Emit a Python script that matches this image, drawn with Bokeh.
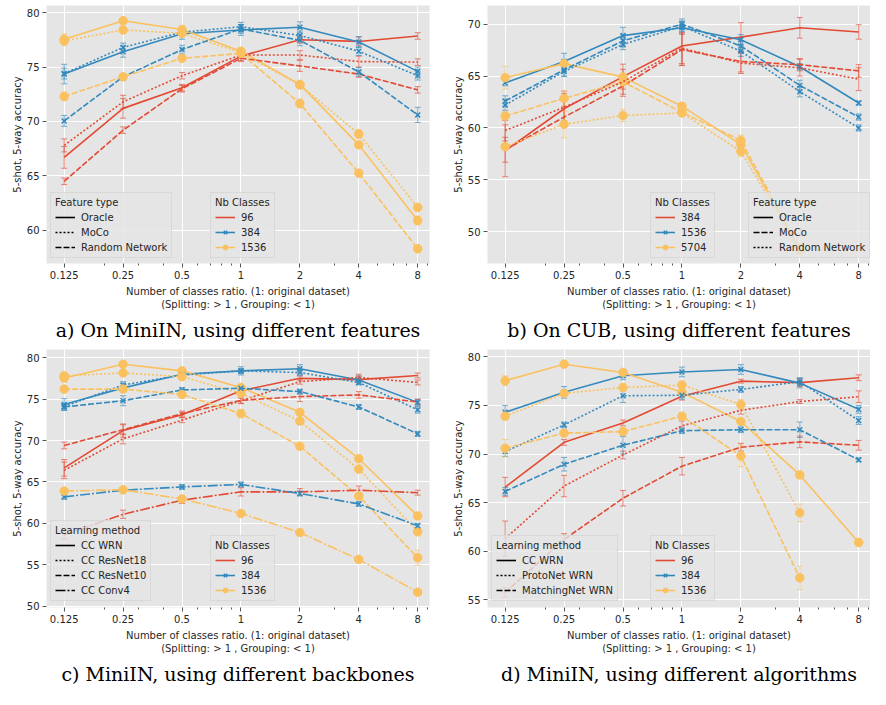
import math
from bokeh.plotting import figure
from bokeh.models import (Range1d, FixedTicker, CustomJSTickFormatter, Legend, LegendItem,
                          Whisker, TeeHead, ColumnDataSource, Title)
from bokeh.layouts import gridplot
from bokeh.embed import file_html
from bokeh.resources import INLINE

NAN = float("nan")

RATIOS = [0.125, 0.25, 0.5, 1, 2, 4, 8]
MINOR_RATIOS = [0.2, 0.3, 0.4, 0.6, 0.7, 0.8, 0.9, 3, 5, 6, 7, 9]

# ---------------- panel a : MiniIN, features ----------------
A_CLASSES = ["96", "384", "1536"]
A_STYLES = ["Oracle", "MoCo", "Random Network"]
A_ORACLE_96 = [66.7, 71.2, 73.1, 76.0, 77.5, 77.35, 77.85]
A_ORACLE_96_ERR = [1.0, 0.9, 0.3, 0.4, 0.3, 0.4, 0.3]
A_ORACLE_384 = [74.35, 76.4, 78.05, 78.4, 78.65, 77.3, 74.6]
A_ORACLE_384_ERR = [0.9, 0.5, 0.5, 0.5, 0.5, 0.5, 0.4]
A_ORACLE_1536 = [77.55, 79.25, 78.45, 76.45, 73.4, 67.85, 60.9]
A_ORACLE_1536_ERR = [0.5, 0.3, 0.3, 0.3, 0.3, 0.3, 0.4]
A_MOCO_96 = [67.8, 71.8, 74.2, 76.1, 76.1, 75.5, 75.45]
A_MOCO_96_ERR = [0.6, 0.6, 0.3, 0.3, 0.4, 0.5, 0.3]
A_MOCO_384 = [74.4, 76.8, 78.2, 78.7, 77.9, 76.45, 74.2]
A_MOCO_384_ERR = [0.5, 0.4, 0.4, 0.4, 0.4, 0.4, 0.4]
A_MOCO_1536 = [77.4, 78.4, 78.1, 76.3, 73.35, 68.85, 62.1]
A_MOCO_1536_ERR = [0.4, 0.3, 0.3, 0.3, 0.3, 0.4, 0.3]
A_RANDOM_96 = [64.5, 69.2, 73.0, 75.8, 75.1, 74.35, 72.9]
A_RANDOM_96_ERR = [0.3, 0.3, 0.3, 0.3, 0.5, 0.3, 0.3]
A_RANDOM_384 = [70.05, 74.1, 76.6, 78.5, 77.45, 74.55, 70.6]
A_RANDOM_384_ERR = [0.5, 0.3, 0.4, 0.4, 0.5, 0.4, 0.7]
A_RANDOM_1536 = [72.3, 74.1, 75.8, 76.25, 71.65, 65.25, 58.3]
A_RANDOM_1536_ERR = [0.4, 0.3, 0.3, 0.3, 0.4, 0.3, 0.3]

# ---------------- panel b : CUB, features ----------------
B_CLASSES = ["384", "1536", "5704"]
B_STYLES = ["Oracle", "MoCo", "Random Network"]
B_ORACLE_384 = [57.8, 61.85, 64.95, 67.9, 68.75, 69.65, 69.25]
B_ORACLE_384_ERR = [2.5, 1.7, 1.2, 1.9, 1.4, 1.0, 0.7]
B_ORACLE_1536 = [64.35, 66.4, 68.9, 69.65, 68.5, 65.9, 62.4]
B_ORACLE_1536_ERR = [0.3, 0.8, 0.8, 0.6, 0.5, 0.3, 0.2]
B_ORACLE_5704 = [64.85, 66.2, 64.9, 62.1, 58.4, 48.3, NAN]
B_ORACLE_5704_ERR = [1.1, 0.4, 0.4, 0.3, 0.5, 0.4, NAN]
B_MOCO_384 = [57.9, 61.05, 64.05, 67.55, 66.4, 66.1, 65.5]
B_MOCO_384_ERR = [1.2, 1.0, 1.0, 1.5, 1.0, 0.6, 0.6]
B_MOCO_1536 = [62.6, 65.6, 68.4, 70.0, 67.9, 64.1, 61.05]
B_MOCO_1536_ERR = [0.5, 0.6, 0.6, 0.5, 0.5, 0.5, 0.3]
B_MOCO_5704 = [61.15, 62.85, 64.45, 61.5, 58.8, 48.4, NAN]
B_MOCO_5704_ERR = [0.4, 0.7, 0.6, 0.3, 0.5, 0.4, NAN]
B_RANDOM_384 = [59.75, 62.0, 64.45, 67.7, 66.25, 65.8, 64.7]
B_RANDOM_384_ERR = [1.0, 1.3, 1.2, 1.5, 1.0, 0.8, 1.1]
B_RANDOM_1536 = [62.2, 65.45, 68.05, 69.8, 67.4, 63.5, 60.0]
B_RANDOM_1536_ERR = [0.5, 0.5, 0.5, 0.5, 0.5, 0.5, 0.3]
B_RANDOM_5704 = [58.2, 60.35, 61.2, 61.45, 57.75, 48.2, NAN]
B_RANDOM_5704_ERR = [0.3, 1.3, 0.6, 0.3, 0.5, 0.4, NAN]

# ---------------- panel c : MiniIN, backbones ----------------
C_CLASSES = ["96", "384", "1536"]
C_STYLES = ["CC WRN", "CC ResNet18", "CC ResNet10", "CC Conv4"]
C_WRN_96 = [66.7, 71.2, 73.1, 76.0, 77.5, 77.35, 77.85]
C_WRN_96_ERR = [1.0, 0.8, 0.3, 0.4, 0.3, 0.4, 0.3]
C_WRN_384 = [74.35, 76.35, 78.0, 78.4, 78.65, 77.3, 74.6]
C_WRN_384_ERR = [0.7, 0.5, 0.5, 0.5, 0.5, 0.5, 0.4]
C_WRN_1536 = [77.55, 79.2, 78.4, 76.4, 73.4, 67.8, 60.9]
C_WRN_1536_ERR = [0.5, 0.3, 0.3, 0.3, 0.3, 0.3, 0.4]
C_RESNET18_96 = [66.4, 70.2, 72.45, 74.8, 77.1, 77.6, 77.0]
C_RESNET18_96_ERR = [1.0, 0.6, 0.3, 0.3, 0.3, 0.4, 0.3]
C_RESNET18_384 = [74.1, 76.7, 77.9, 78.4, 78.2, 77.0, 73.7]
C_RESNET18_384_ERR = [0.3, 0.4, 0.3, 0.3, 0.4, 0.3, 0.4]
C_RESNET18_1536 = [77.8, 78.15, 77.7, 75.7, 72.35, 66.55, 59.0]
C_RESNET18_1536_ERR = [0.3, 0.3, 0.3, 0.3, 0.3, 0.3, 0.5]
C_RESNET10_96 = [69.4, 71.3, 73.25, 74.85, 75.3, 75.5, 74.65]
C_RESNET10_96_ERR = [0.4, 0.6, 0.3, 0.4, 0.6, 0.4, 0.3]
C_RESNET10_384 = [74.05, 74.8, 76.1, 76.3, 75.9, 74.05, 70.8]
C_RESNET10_384_ERR = [0.4, 0.6, 0.3, 0.3, 0.3, 0.3, 0.3]
C_RESNET10_1536 = [76.2, 76.2, 75.55, 73.25, 69.3, 63.3, 55.85]
C_RESNET10_1536_ERR = [0.3, 0.3, 0.3, 0.5, 0.3, 0.4, 0.9]
C_CONV4_96 = [58.6, 61.1, 62.8, 63.8, 63.8, 64.0, 63.7]
C_CONV4_96_ERR = [0.5, 0.5, 0.4, 0.5, 0.4, 0.5, 0.3]
C_CONV4_384 = [63.2, 64.0, 64.4, 64.7, 63.6, 62.35, 59.7]
C_CONV4_384_ERR = [0.3, 0.3, 0.3, 0.3, 0.3, 0.3, 0.3]
C_CONV4_1536 = [63.9, 64.05, 62.95, 61.2, 58.9, 55.65, 51.7]
C_CONV4_1536_ERR = [0.3, 0.3, 0.3, 0.3, 0.3, 0.3, 0.3]

# ---------------- panel d : MiniIN, algorithms ----------------
D_CLASSES = ["96", "384", "1536"]
D_STYLES = ["CC WRN", "ProtoNet WRN", "MatchingNet WRN"]
D_WRN_96 = [66.6, 71.2, 73.2, 75.95, 77.5, 77.35, 77.85]
D_WRN_96_ERR = [1.0, 0.3, 0.3, 0.4, 0.2, 0.4, 0.3]
D_WRN_384 = [74.3, 76.35, 78.05, 78.45, 78.7, 77.3, 74.6]
D_WRN_384_ERR = [0.7, 0.6, 0.4, 0.5, 0.5, 0.5, 0.4]
D_WRN_1536 = [77.55, 79.25, 78.4, 76.35, 73.35, 67.85, 60.9]
D_WRN_1536_ERR = [0.5, 0.3, 0.3, 0.3, 0.3, 0.3, 0.4]
D_PROTO_96 = [61.3, 66.7, 69.9, 72.9, 74.5, 75.4, 75.9]
D_PROTO_96_ERR = [1.8, 1.1, 0.4, 0.5, 0.4, 0.2, 0.6]
D_PROTO_384 = [70.25, 73.0, 76.0, 76.05, 76.65, 77.45, 73.45]
D_PROTO_384_ERR = [0.5, 0.3, 0.7, 0.4, 0.3, 0.4, 0.4]
D_PROTO_1536 = [73.9, 76.25, 76.85, 77.1, 75.1, 63.95, NAN]
D_PROTO_1536_ERR = [0.4, 0.3, 0.4, 0.4, 0.5, 0.9, NAN]
D_MATCH_96 = [55.75, 61.2, 65.45, 68.75, 70.7, 71.25, 70.9]
D_MATCH_96_ERR = [0.5, 0.6, 0.8, 0.9, 0.4, 0.6, 0.5]
D_MATCH_384 = [66.15, 68.95, 70.9, 72.4, 72.5, 72.5, 69.4]
D_MATCH_384_ERR = [0.4, 0.7, 0.9, 0.3, 0.3, 0.8, 0.2]
D_MATCH_1536 = [70.6, 72.15, 72.3, 73.9, 69.8, 57.25, NAN]
D_MATCH_1536_ERR = [0.9, 0.3, 0.4, 0.3, 1.1, 1.2, NAN]

CAPTIONS = ["a) On MiniIN, using different features",
            "b) On CUB, using different features",
            "c) MiniIN, using different backbones",
            "d) MiniIN, using different algorithms"]

COLORS = ["#E24A33", "#348ABD", "#FBC15E"]
MARKERS = [None, "x", "circle"]
SOLID, DOTTED, DASHED, DASHDOT = "solid", "2 2", "6 2", "10 2 2 2"
LW = 1.6
TICKC = "#555555"
TXT = "#262626"
FONT = "DejaVu Sans"
XLABEL = "Number of classes ratio. (1: original dataset)\n(Splitting: > 1 , Grouping: < 1)"


def draw_series(p, vals, errs, color, dash, marker):
    xs = [r for r, v in zip(RATIOS, vals) if not math.isnan(v)]
    ys = [v for v in vals if not math.isnan(v)]
    es = [e for v, e in zip(vals, errs) if not math.isnan(v)]
    src = ColumnDataSource(dict(x=xs, y=ys,
                                lo=[y - e for y, e in zip(ys, es)],
                                hi=[y + e for y, e in zip(ys, es)]))
    head = dict(size=6, line_color=color, line_alpha=0.65, line_width=1)
    p.add_layout(Whisker(source=src, base="x", upper="hi", lower="lo", dimension="height",
                         line_color=color, line_alpha=0.65, line_width=1,
                         upper_head=TeeHead(**head), lower_head=TeeHead(**head)))
    p.line(RATIOS, vals, line_color=color, line_width=LW, line_dash=dash)
    if marker == "x":
        p.scatter("x", "y", source=src, marker="x", size=7, line_color=color, line_width=1.5)
    elif marker == "circle":
        p.scatter("x", "y", source=src, marker="circle", size=8.5, fill_color=color, line_color=color)


def make_legend(p, items, title, loc):
    leg = Legend(items=items, location=loc, title=title,
                 title_text_font=FONT, title_text_font_size="10px", title_text_font_style="normal",
                 title_text_color=TXT, title_standoff=3,
                 label_text_font=FONT, label_text_font_size="10px", label_text_color=TXT,
                 glyph_width=20, glyph_height=12, label_height=12, label_standoff=6,
                 spacing=3, padding=4, margin=0,
                 background_fill_color="#E5E5E5", background_fill_alpha=0.8,
                 border_line_color="#CCCCCC", border_line_width=1)
    p.add_layout(leg)


def make_panel(series, styles, dashes, classes, style_title, y_lo, y_hi, y_ticks,
               caption, style_loc, class_loc, left, right, legend_order):
    p = figure(width=435, height=344, x_axis_type="log",
               x_range=Range1d(2 ** -3.3, 2 ** 3.2), y_range=Range1d(y_lo, y_hi),
               output_backend="svg", toolbar_location=None,
               min_border_left=left, min_border_right=right, min_border_top=5, min_border_bottom=0,
               background_fill_color="#E5E5E5", border_fill_color="white", outline_line_color=None)
    p.xaxis.ticker = FixedTicker(ticks=RATIOS, minor_ticks=MINOR_RATIOS)
    p.xaxis.formatter = CustomJSTickFormatter(code="return String(tick);")
    p.yaxis.ticker = FixedTicker(ticks=y_ticks)
    for ax in (p.xaxis[0], p.yaxis[0]):
        ax.axis_line_color = None
        ax.major_tick_line_color = TICKC
        ax.major_tick_out = 4
        ax.major_tick_in = 0
        ax.minor_tick_line_color = TICKC
        ax.minor_tick_out = 2
        ax.minor_tick_in = 0
        ax.major_label_text_font = FONT
        ax.major_label_text_font_size = "10px"
        ax.major_label_text_color = TXT
        ax.major_label_standoff = 3
        ax.axis_label_text_font = FONT
        ax.axis_label_text_font_size = "10px"
        ax.axis_label_text_font_style = "normal"
        ax.axis_label_text_color = TXT
    p.yaxis.minor_tick_line_color = None
    p.xaxis.axis_label = XLABEL
    p.xaxis.axis_label_standoff = 4
    p.yaxis.axis_label = "5-shot, 5-way accuracy"
    p.yaxis.axis_label_standoff = 1
    p.xgrid.grid_line_color = "white"
    p.ygrid.grid_line_color = "white"
    p.xgrid.grid_line_width = 1
    p.ygrid.grid_line_width = 1

    for si, row in enumerate(series):
        for ci, (vals, errs) in enumerate(row):
            draw_series(p, vals, errs, COLORS[ci], dashes[si], MARKERS[ci])

    # legend-only renderers (hold no visible data)
    style_items = []
    for name, dash in zip(styles, dashes):
        r = p.line([NAN], [NAN], line_color="black", line_width=LW, line_dash=dash)
        style_items.append(LegendItem(label=name, renderers=[r]))
    class_items = []
    for name, col, mk in zip(classes, COLORS, MARKERS):
        rs = [p.line([NAN], [NAN], line_color=col, line_width=LW)]
        if mk == "x":
            rs.append(p.scatter([NAN], [NAN], marker="x", size=7, line_color=col, line_width=1.5))
        elif mk == "circle":
            rs.append(p.scatter([NAN], [NAN], marker="circle", size=8.5, fill_color=col, line_color=col))
        class_items.append(LegendItem(label=name, renderers=rs))
    if legend_order == "style_first":
        make_legend(p, style_items, style_title, style_loc)
        make_legend(p, class_items, "Nb Classes", class_loc)
    else:
        make_legend(p, class_items, "Nb Classes", class_loc)
        make_legend(p, style_items, style_title, style_loc)

    p.add_layout(Title(text=caption, align="center", text_font="DejaVu Serif",
                       text_font_size="19px", text_font_style="normal", text_color="black",
                       standoff=8), "below")
    return p


pa = make_panel(
    [[(A_ORACLE_96, A_ORACLE_96_ERR), (A_ORACLE_384, A_ORACLE_384_ERR), (A_ORACLE_1536, A_ORACLE_1536_ERR)],
     [(A_MOCO_96, A_MOCO_96_ERR), (A_MOCO_384, A_MOCO_384_ERR), (A_MOCO_1536, A_MOCO_1536_ERR)],
     [(A_RANDOM_96, A_RANDOM_96_ERR), (A_RANDOM_384, A_RANDOM_384_ERR), (A_RANDOM_1536, A_RANDOM_1536_ERR)]],
    A_STYLES, [SOLID, DOTTED, DASHED], A_CLASSES, "Feature type",
    56.95, 80.65, [60, 65, 70, 75, 80], CAPTIONS[0], (4, 5), (164, 5), 46, 6, "style_first")

pb = make_panel(
    [[(B_ORACLE_384, B_ORACLE_384_ERR), (B_ORACLE_1536, B_ORACLE_1536_ERR), (B_ORACLE_5704, B_ORACLE_5704_ERR)],
     [(B_MOCO_384, B_MOCO_384_ERR), (B_MOCO_1536, B_MOCO_1536_ERR), (B_MOCO_5704, B_MOCO_5704_ERR)],
     [(B_RANDOM_384, B_RANDOM_384_ERR), (B_RANDOM_1536, B_RANDOM_1536_ERR), (B_RANDOM_5704, B_RANDOM_5704_ERR)]],
    B_STYLES, [SOLID, DASHED, DOTTED], B_CLASSES, "Feature type",
    46.94, 71.8, [50, 55, 60, 65, 70], CAPTIONS[1], (261, 5), (163, 5), 52, 0, "class_first")

pc = make_panel(
    [[(C_WRN_96, C_WRN_96_ERR), (C_WRN_384, C_WRN_384_ERR), (C_WRN_1536, C_WRN_1536_ERR)],
     [(C_RESNET18_96, C_RESNET18_96_ERR), (C_RESNET18_384, C_RESNET18_384_ERR), (C_RESNET18_1536, C_RESNET18_1536_ERR)],
     [(C_RESNET10_96, C_RESNET10_96_ERR), (C_RESNET10_384, C_RESNET10_384_ERR), (C_RESNET10_1536, C_RESNET10_1536_ERR)],
     [(C_CONV4_96, C_CONV4_96_ERR), (C_CONV4_384, C_CONV4_384_ERR), (C_CONV4_1536, C_CONV4_1536_ERR)]],
    C_STYLES, [SOLID, DOTTED, DASHED, DASHDOT], C_CLASSES, "Learning method",
    49.85, 80.98, [50, 55, 60, 65, 70, 75, 80], CAPTIONS[2], (4, 6), (164, 6), 46, 6, "style_first")

pd_ = make_panel(
    [[(D_WRN_96, D_WRN_96_ERR), (D_WRN_384, D_WRN_384_ERR), (D_WRN_1536, D_WRN_1536_ERR)],
     [(D_PROTO_96, D_PROTO_96_ERR), (D_PROTO_384, D_PROTO_384_ERR), (D_PROTO_1536, D_PROTO_1536_ERR)],
     [(D_MATCH_96, D_MATCH_96_ERR), (D_MATCH_384, D_MATCH_384_ERR), (D_MATCH_1536, D_MATCH_1536_ERR)]],
    D_STYLES, [SOLID, DOTTED, DASHED], D_CLASSES, "Learning method",
    54.2, 80.76, [55, 60, 65, 70, 75, 80], CAPTIONS[3], (4, 6), (163, 6), 52, 0, "style_first")

grid = gridplot([[pa, pb], [pc, pd_]], toolbar_location=None)
open("out.html", "w").write(file_html(grid, INLINE))
